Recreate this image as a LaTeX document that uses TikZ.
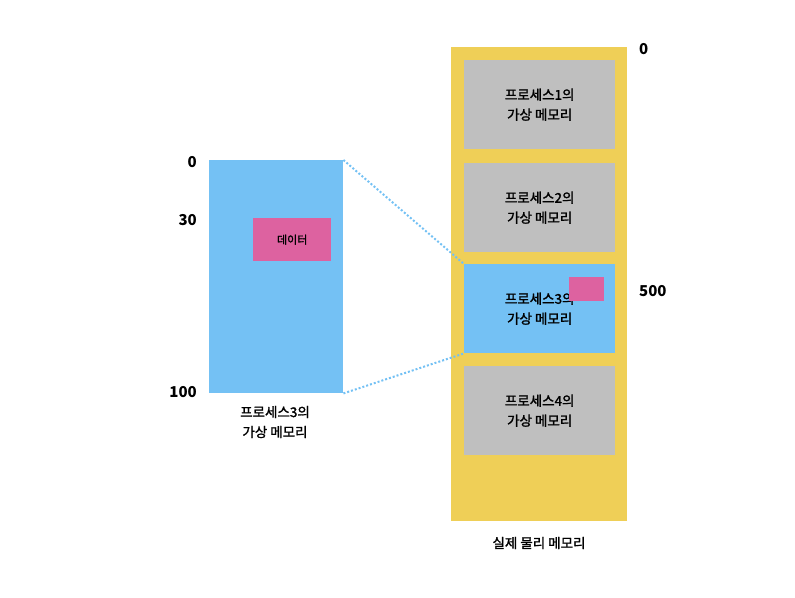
\documentclass[tikz,border=0pt]{standalone}
\usepackage{fontspec}
\setmainfont{Noto Sans CJK KR}
\newfontfamily\krmedium[FakeBold=1.6]{Noto Sans CJK KR}
\definecolor{skyblue}{HTML}{74C1F4}
\definecolor{datapink}{HTML}{DD62A0}
\definecolor{memyellow}{HTML}{EFCF57}
\definecolor{procgray}{HTML}{BFBFBF}

\begin{document}
\begin{tikzpicture}[x=1pt, y=-1pt,
    box/.style={inner sep=0pt, anchor=north west, align=center, font=\krmedium\fontsize{13.5}{20}\selectfont},
    addr/.style={inner sep=0pt, font=\fontsize{15}{16}\selectfont\bfseries},
    caption/.style={align=center, font=\krmedium\fontsize{13.5}{20}\selectfont}]
    \useasboundingbox (0,0) rectangle (795,597);

    % physical memory
    \node[box, fill=memyellow, minimum width=176pt, minimum height=474pt] (phys) at (451,47) {};
    \foreach \i/\y/\c in {1/60/procgray, 2/163/procgray, 3/264/skyblue, 4/366/procgray}
        \node[box, fill=\c, minimum width=151pt, minimum height=89pt] (p\i) at (464,\y) {프로세스{\i}의\\가상 메모리};
    \node[box, fill=datapink, minimum width=35pt, minimum height=24pt] (pdata) at (569,277) {};

    % virtual memory of process 3
    \node[box, fill=skyblue, minimum width=134pt, minimum height=233pt] (vmem) at (209,160) {};
    \node[box, fill=datapink, minimum width=78pt, minimum height=43pt, font=\krmedium\fontsize{11}{12}\selectfont] (vdata) at (253,218) {데이터};

    \draw[skyblue, line width=2pt, dash pattern=on 2pt off 2pt] (vmem.north east) -- (p3.north west);
    \draw[skyblue, line width=2pt, dash pattern=on 2pt off 2pt] (vmem.south east) -- (p3.south west);

    \node[addr, anchor=east] (v0) at (197,162) {0};
    \node[addr, anchor=east] (v30) at (197,220) {30};
    \node[addr, anchor=east] (v100) at (197,392) {100};
    \node[addr, anchor=west] (a0) at (639,49) {0};
    \node[addr, anchor=west] (a500) at (639,291) {500};

    \node[caption] (vcap) at (275,422) {프로세스3의\\가상 메모리};
    \node[caption] (pcap) at (539,543) {실제 물리 메모리};
\end{tikzpicture}
\end{document}
